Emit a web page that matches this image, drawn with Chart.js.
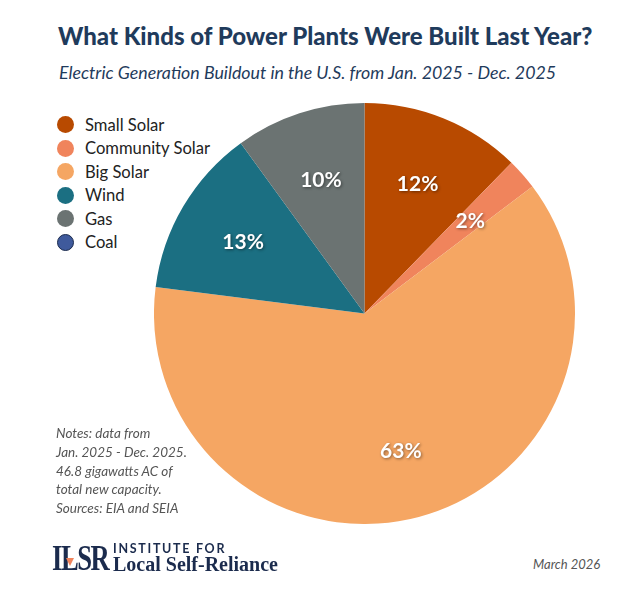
<!DOCTYPE html>
<html>
<head>
<meta charset="utf-8">
<script src="https://cdn.jsdelivr.net/npm/chart.js@4/dist/chart.umd.min.js"></script>
<style>
  body { margin: 0; background: #fff; font-family: Lato, "Noto Sans", sans-serif; }
  #wrap { position: relative; width: 637px; height: 606px; overflow: hidden; }
  #title { position: absolute; left: 58px; top: 21px; font-weight: 900; font-size: 24px; color: #1f3b5c; white-space: nowrap; }
  #subtitle { position: absolute; left: 59px; top: 61px; font-style: italic; font-size: 17.8px; color: #1f3b5c; white-space: nowrap; }
  #pie-box { position: absolute; left: 154px; top: 103px; width: 421px; height: 421px; }
  #legend { position: absolute; left: 57px; top: 113px; }
  .item { height: 23.5px; display: flex; align-items: center; font-size: 16.6px; color: #222; }
  .dot { width: 17px; height: 17px; border-radius: 50%; margin-right: 11px; box-sizing: border-box; }
  #notes { position: absolute; left: 56px; top: 424px; font-style: italic; font-size: 13.5px; line-height: 18.8px; color: #555; }
  #logo { position: absolute; left: 52px; top: 540px; color: #1b2b4d; }
  #ilsr { position: absolute; left: 0; top: 0; font-family: "Liberation Serif", serif; font-weight: bold; font-size: 36px; line-height: 36px; letter-spacing: -2px; transform: scaleX(0.74); transform-origin: left top; }
  #tri { position: absolute; left: 14px; top: 18px; width: 0; height: 0; border-left: 4px solid transparent; border-right: 4px solid transparent; border-top: 8px solid #f0845c; }
  #inst { position: absolute; left: 61px; top: 1px; font-size: 12.5px; letter-spacing: 1.7px; font-weight: bold; white-space: nowrap; }
  #lsr { position: absolute; left: 61px; top: 13px; font-family: "Liberation Serif", serif; font-weight: bold; font-size: 20px; white-space: nowrap; }
  #date { position: absolute; left: 533px; top: 556px; font-style: italic; font-size: 13px; color: #555; }
</style>
</head>
<body>
<div id="wrap">
  <div id="title">What Kinds of Power Plants Were Built Last Year?</div>
  <div id="subtitle">Electric Generation Buildout in the U.S. from Jan. 2025 - Dec. 2025</div>
  <div id="legend"></div>
  <div id="pie-box"><canvas id="pie"></canvas></div>
  <div id="notes">Notes: data from<br>Jan. 2025 - Dec. 2025.<br>46.8 gigawatts AC of<br>total new capacity.<br>Sources: EIA and SEIA</div>
  <div id="logo">
    <div id="ilsr">ILSR</div>
    <div id="tri"></div>
    <div id="inst">INSTITUTE FOR</div>
    <div id="lsr">Local Self-Reliance</div>
  </div>
  <div id="date">March 2026</div>
</div>
<script>
// Share of new capacity (%)
const categories = ['Small Solar', 'Community Solar', 'Big Solar', 'Wind', 'Gas', 'Coal'];
const shares = [12.3, 2.4, 62.3, 13.0, 10.0, 0];
const labelsShown = ['12%', '2%', '63%', '13%', '10%', ''];
const colors = ['#b84a00', '#f0845c', '#f5a663', '#1b6f82', '#6b7372', '#3f5a9c'];

// legend in html, left side
const legend = document.querySelector('#legend');
categories.forEach((name, i) => {
  const row = document.createElement('div');
  row.className = 'item';
  const dot = document.createElement('span');
  dot.className = 'dot';
  dot.style.background = colors[i];
  if (name === 'Coal') dot.style.border = '1.5px solid #1b2b4d';
  row.appendChild(dot);
  row.appendChild(document.createTextNode(name));
  legend.appendChild(row);
});

// draws the percent inside each slice
const sliceLabels = {
  id: 'sliceLabels',
  afterDatasetsDraw(chart) {
    const { ctx } = chart;
    const meta = chart.getDatasetMeta(0);
    ctx.save();
    ctx.font = 'bold 21px Lato, sans-serif';
    ctx.textAlign = 'center';
    ctx.textBaseline = 'middle';
    ctx.fillStyle = '#fff';
    ctx.shadowColor = 'rgba(0,0,0,0.45)';
    ctx.shadowBlur = 3;
    ctx.shadowOffsetX = 1;
    ctx.shadowOffsetY = 1;
    meta.data.forEach((arc, i) => {
      if (!labelsShown[i]) return;
      const { x, y, startAngle, endAngle, outerRadius } = arc.getProps(['x', 'y', 'startAngle', 'endAngle', 'outerRadius'], true);
      const mid = (startAngle + endAngle) / 2;
      const r = outerRadius * 0.67;
      ctx.fillText(labelsShown[i], x + Math.cos(mid) * r, y + Math.sin(mid) * r + 1);
    });
    ctx.restore();
  }
};

new Chart(document.querySelector('#pie'), {
  type: 'pie',
  data: {
    labels: categories,
    datasets: [{
      data: shares,
      backgroundColor: colors,
      borderWidth: 0
    }]
  },
  options: {
    responsive: true,
    maintainAspectRatio: false,
    animation: false,
    layout: { padding: 0 },
    plugins: {
      legend: { display: false },
      tooltip: { enabled: false }
    }
  },
  plugins: [sliceLabels]
});
</script>
</body>
</html>
